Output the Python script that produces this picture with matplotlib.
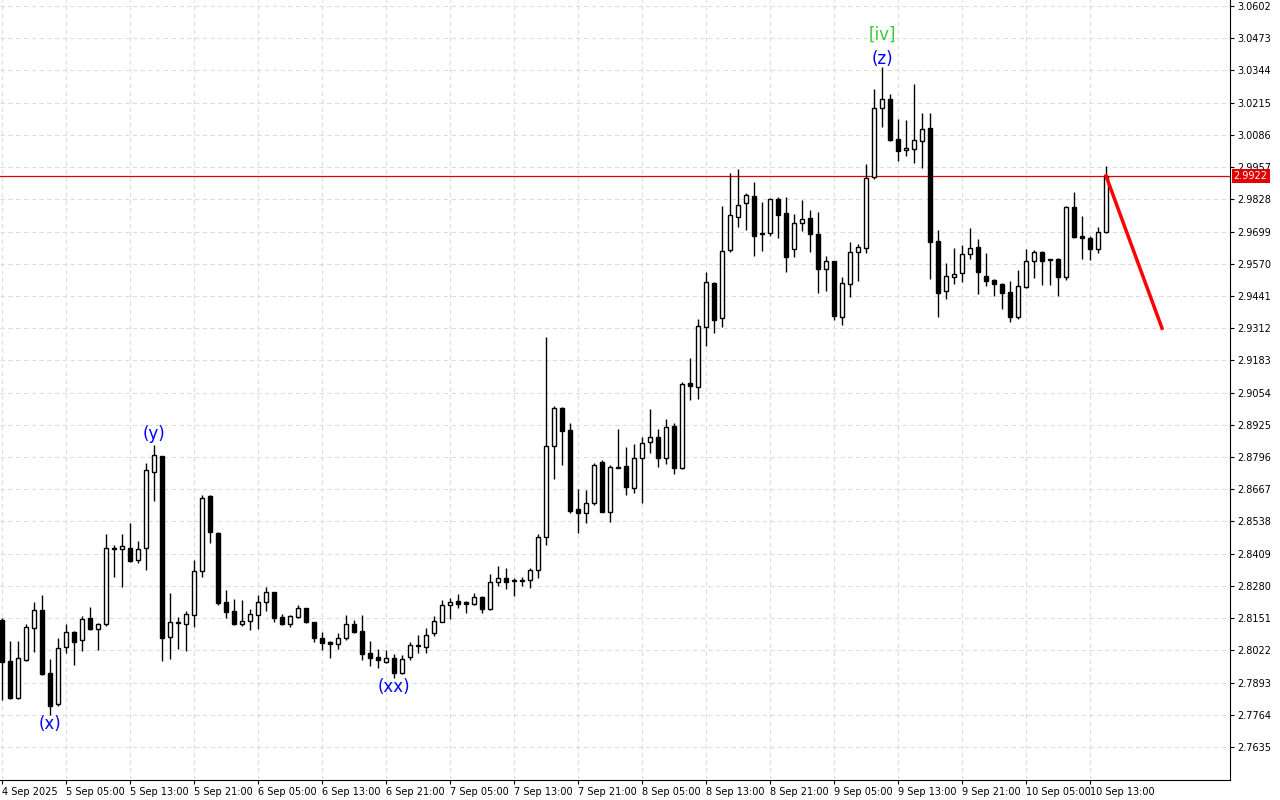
import matplotlib
matplotlib.use("Agg")
import matplotlib.pyplot as plt
import numpy as np

# candle values, in chart pixels (y grows down), hourly bars
o_px = [620, 661, 698, 660, 628, 610, 673, 704, 647, 632, 640, 618, 629, 624, 548, 549, 548, 560, 548, 472,
        456, 637, 623, 624, 615, 571, 496, 533, 602, 611, 624, 621, 615, 602, 592, 617, 624, 617, 608, 622,
        638, 642, 644, 638, 624, 631, 653, 657, 662, 658, 673, 657, 645, 647, 633, 622, 605, 601, 602, 604,
        597, 609, 582, 578, 581, 580, 580, 570, 537, 446, 408, 430, 509, 513, 503, 462, 512, 467, 466, 488,
        458, 442, 437, 458, 426, 468, 383, 387, 327, 283, 318, 250, 217, 203, 196, 234, 233, 199, 213, 249,
        223, 218, 234, 269, 261, 317, 284, 252, 248, 177, 108, 99, 139, 150, 149, 141, 128, 241, 291, 277,
        273, 254, 247, 276, 280, 284, 292, 317, 287, 261, 252, 260, 259, 277, 207, 236, 238, 249, 232]
c_px = [662, 698, 658, 627, 610, 674, 706, 648, 632, 642, 619, 629, 624, 548, 549, 546, 561, 549, 470, 455,
        638, 622, 622, 614, 571, 498, 532, 603, 612, 624, 621, 614, 602, 592, 618, 624, 616, 608, 622, 638,
        643, 644, 638, 624, 632, 654, 658, 660, 658, 673, 659, 645, 646, 635, 621, 605, 602, 604, 604, 597,
        609, 582, 578, 582, 581, 581, 570, 537, 446, 408, 431, 511, 513, 503, 465, 512, 467, 468, 487, 458,
        443, 437, 458, 427, 468, 384, 386, 326, 282, 320, 251, 215, 205, 195, 236, 234, 199, 215, 257, 223,
        219, 234, 269, 261, 316, 283, 252, 247, 178, 108, 99, 140, 151, 148, 140, 129, 242, 293, 276, 274,
        254, 248, 272, 281, 284, 293, 317, 286, 261, 252, 261, 260, 277, 207, 237, 238, 249, 232, 176]
h_px = [618, 641, 641, 624, 602, 595, 659, 638, 624, 631, 616, 607, 623, 534, 545, 534, 523, 541, 463, 445,
        456, 593, 617, 611, 560, 495, 495, 532, 590, 599, 600, 609, 595, 587, 592, 614, 615, 605, 608, 622,
        632, 641, 633, 615, 620, 615, 641, 649, 650, 654, 655, 642, 635, 628, 616, 600, 598, 594, 601, 593,
        596, 574, 566, 568, 578, 577, 568, 534, 337, 406, 407, 423, 489, 490, 463, 460, 465, 429, 447, 444,
        437, 409, 429, 419, 423, 382, 358, 319, 272, 282, 206, 173, 169, 193, 182, 202, 198, 197, 197, 214,
        200, 210, 212, 256, 261, 277, 242, 244, 164, 89, 67, 94, 119, 120, 84, 113, 113, 230, 263, 248,
        245, 228, 239, 253, 279, 283, 281, 270, 249, 250, 251, 259, 258, 206, 192, 216, 236, 227, 166]
l_px = [700, 699, 699, 661, 652, 675, 715, 706, 653, 665, 651, 630, 650, 626, 577, 587, 562, 563, 570, 501,
        661, 659, 649, 651, 627, 577, 543, 605, 618, 625, 626, 630, 629, 611, 622, 625, 627, 618, 623, 642,
        650, 658, 649, 640, 633, 660, 666, 668, 663, 678, 674, 660, 653, 653, 636, 622, 619, 608, 613, 605,
        613, 610, 586, 589, 596, 586, 588, 578, 545, 479, 465, 513, 533, 523, 505, 512, 522, 468, 495, 493,
        503, 453, 467, 464, 474, 469, 400, 399, 346, 333, 327, 252, 227, 230, 256, 251, 236, 238, 272, 257,
        231, 252, 293, 291, 320, 325, 297, 281, 253, 179, 127, 141, 161, 156, 163, 168, 279, 317, 299, 284,
        282, 259, 294, 286, 296, 309, 322, 319, 288, 278, 285, 285, 296, 280, 238, 259, 260, 253, 233]

price_axis = [3.0602 - 0.0129 * k for k in range(24)]
time_labels = ["4 Sep 2025", "5 Sep 05:00", "5 Sep 13:00", "5 Sep 21:00", "6 Sep 05:00", "6 Sep 13:00",
               "6 Sep 21:00", "7 Sep 05:00", "7 Sep 13:00", "7 Sep 21:00", "8 Sep 05:00", "8 Sep 13:00",
               "8 Sep 21:00", "9 Sep 05:00", "9 Sep 13:00", "9 Sep 21:00", "10 Sep 05:00", "10 Sep 13:00"]
last_price = 2.9922
forecast_end = 2.9312   # end of the red projection line
# (candle, text, colour, price offset from the wick end)
wave_labels = [(6, "(x)", "blue", -0.0002), (19, "(y)", "blue", 0.0008), (49, "(xx)", "blue", -0.0002),
               (110, "(z)", "blue", -0.0004), (110, "[iv]", "#33cc33", 0.0092)]


# chart scale: 3.0602 at pixel 6, 0.0004004 per pixel
def to_price(v):
    return 3.0626 - np.array(v) * 0.0004004


o, c, h, l = to_price(o_px), to_price(c_px), to_price(h_px), to_price(l_px)
n = len(o)
idx = np.arange(n)

fig = plt.figure(figsize=(12.8, 8), dpi=100)
ax = fig.add_axes([0.0, 20 / 800, 1230 / 1280, 780 / 800])
ax.set_xlim(-0.25, 153.5)
ax.set_ylim(to_price(780), to_price(0))

ax.vlines(idx, l, h, color="black", lw=1, zorder=2)
up = c >= o
bottom = np.minimum(o, c)
height = np.maximum(np.abs(c - o), 0.0003)
ax.bar(idx[up], height[up], bottom=bottom[up], width=0.6, facecolor="white", edgecolor="black", lw=1, zorder=3)
ax.bar(idx[~up], height[~up], bottom=bottom[~up], width=0.6, facecolor="black", edgecolor="black", lw=1, zorder=3)

ax.axhline(last_price, color="#e00000", lw=0.9, zorder=1)
ax.plot([n - 1, n + 6], [last_price, forecast_end], color="red", lw=2.5, zorder=4)

for i, txt, col, off in wave_labels:
    if off < 0 and i in (6, 49):
        ax.text(i, l[i] + off, txt, color=col, fontsize=12, ha="center", va="top")
    else:
        ax.text(i, h[i] + off, txt, color=col, fontsize=12, ha="center", va="bottom")

ax.yaxis.tick_right()
ax.set_yticks(price_axis)
ax.set_yticklabels([f"{p:.4f}" for p in price_axis], fontsize=7)
ax.set_xticks(np.arange(0, 8 * len(time_labels), 8))
ax.set_xticklabels(time_labels, fontsize=7, ha="left")
ax.tick_params(length=3, pad=2)
ax.grid(True, color="#dddddd", ls=(0, (4, 3)), lw=0.8)
ax.set_axisbelow(True)
for s in ["top", "left"]:
    ax.spines[s].set_visible(False)

ax.text(1.003, (last_price - to_price(780)) / (to_price(0) - to_price(780)), f"{last_price:.4f}",
        transform=ax.transAxes, fontsize=7, color="white", va="center", ha="left",
        bbox=dict(facecolor="#e00000", edgecolor="none", pad=1.5))

fig.savefig("out.png", dpi=100)
